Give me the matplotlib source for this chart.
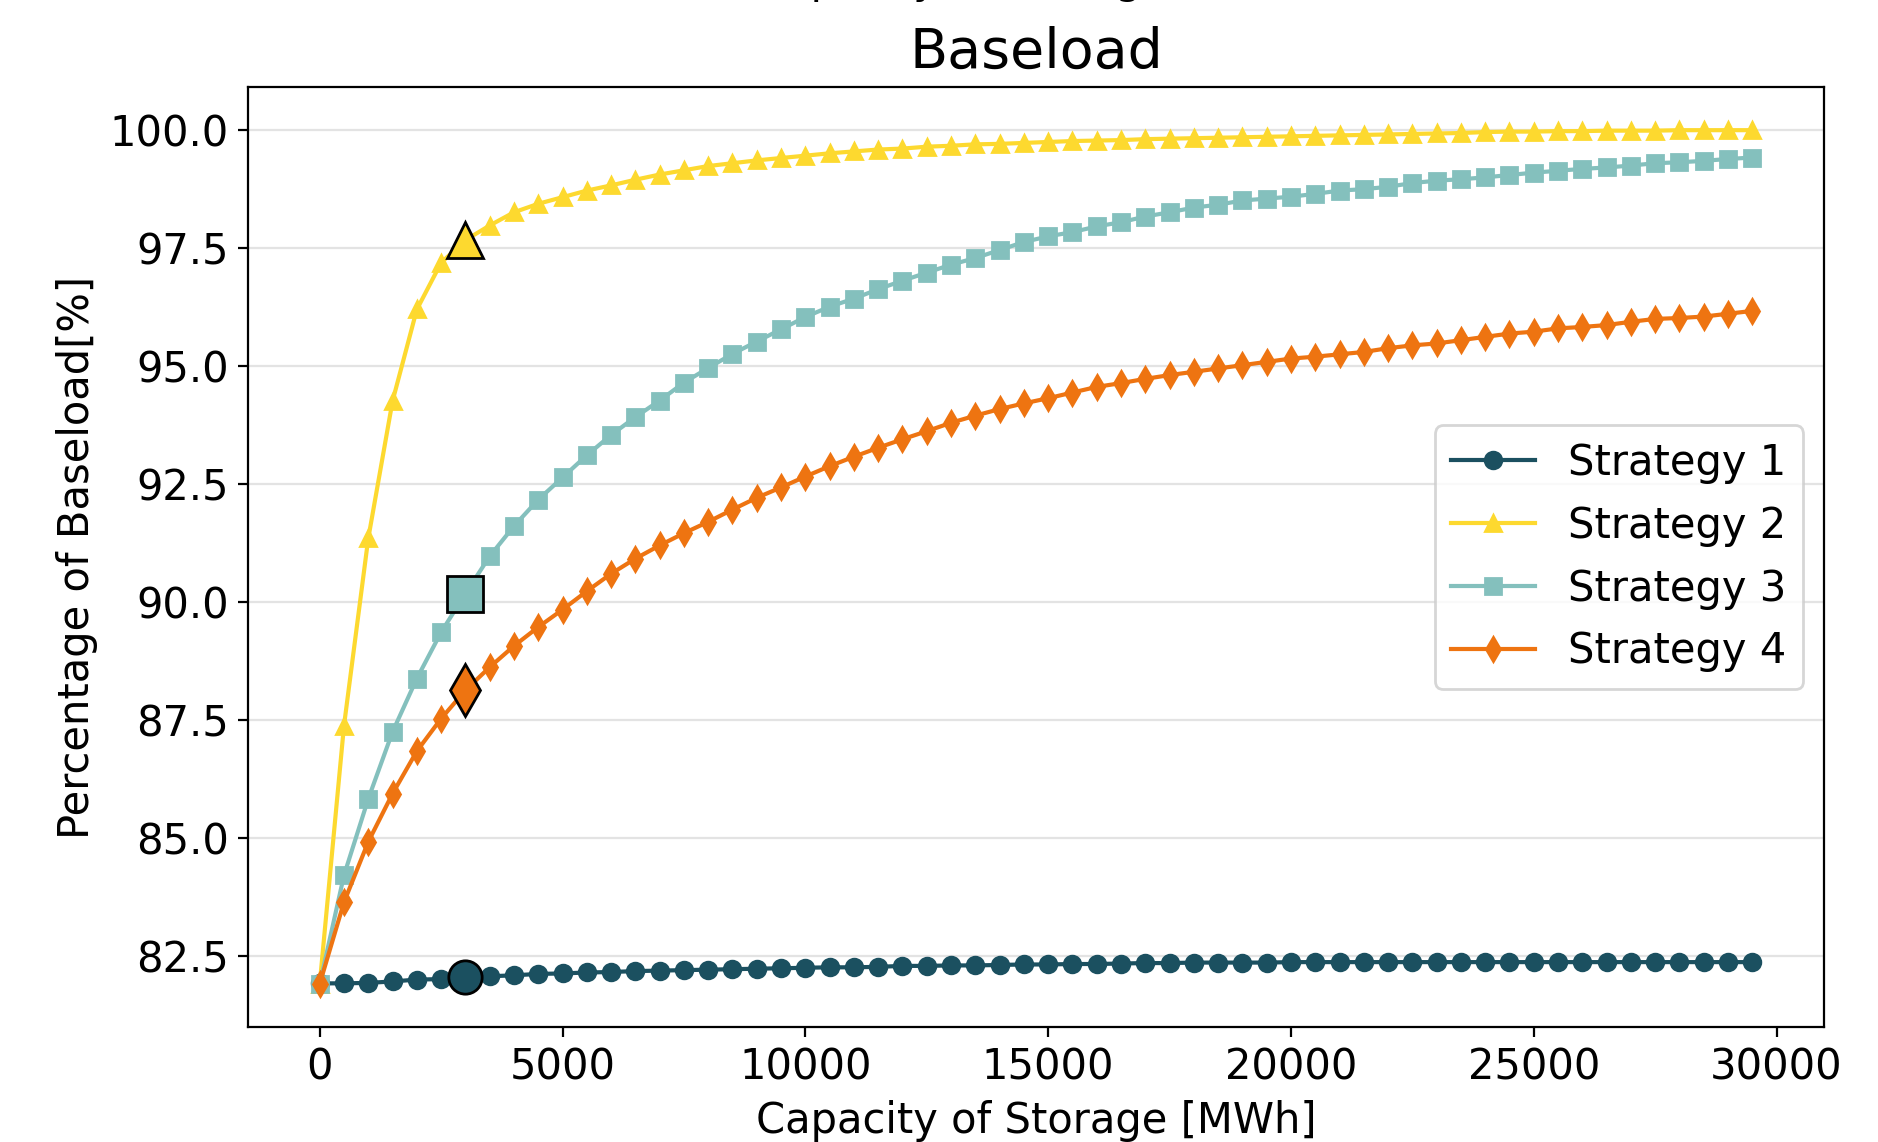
import numpy as np
import matplotlib
matplotlib.use("Agg")
import matplotlib.pyplot as plt

# storage capacity steps [MWh]
capacity = np.arange(0, 30000, 500)

strategy_1 = [81.92, 81.92, 81.93, 81.96, 82.00, 82.01, 82.05, 82.07, 82.09, 82.12,
              82.13, 82.15, 82.16, 82.18, 82.19, 82.20, 82.21, 82.22, 82.23, 82.24,
              82.25, 82.26, 82.26, 82.27, 82.29, 82.29, 82.30, 82.30, 82.31, 82.32,
              82.32, 82.33, 82.33, 82.34, 82.35, 82.35, 82.36, 82.36, 82.36, 82.36,
              82.37, 82.37, 82.37, 82.37, 82.37, 82.37, 82.37, 82.37, 82.37, 82.37,
              82.37, 82.37, 82.37, 82.37, 82.37, 82.37, 82.37, 82.37, 82.37, 82.37]
strategy_2 = [81.90, 87.38, 91.35, 94.26, 96.20, 97.19, 97.67, 97.98, 98.26, 98.44,
              98.58, 98.72, 98.83, 98.95, 99.06, 99.15, 99.24, 99.30, 99.36, 99.41,
              99.46, 99.51, 99.55, 99.59, 99.61, 99.65, 99.67, 99.70, 99.71, 99.73,
              99.75, 99.77, 99.78, 99.79, 99.81, 99.82, 99.83, 99.84, 99.85, 99.86,
              99.87, 99.88, 99.89, 99.90, 99.91, 99.92, 99.93, 99.94, 99.96, 99.97,
              99.97, 99.98, 99.98, 99.99, 99.99, 99.99, 100.0, 100.0, 100.0, 100.0]
strategy_3 = [81.90, 84.21, 85.83, 87.25, 88.38, 89.36, 90.18, 90.97, 91.61, 92.17,
              92.64, 93.11, 93.54, 93.92, 94.27, 94.65, 94.96, 95.26, 95.52, 95.78,
              96.04, 96.26, 96.43, 96.63, 96.81, 96.98, 97.15, 97.29, 97.46, 97.63,
              97.75, 97.84, 97.96, 98.05, 98.17, 98.26, 98.36, 98.42, 98.51, 98.55,
              98.59, 98.65, 98.72, 98.75, 98.80, 98.88, 98.93, 98.96, 99.00, 99.05,
              99.10, 99.14, 99.18, 99.21, 99.25, 99.30, 99.32, 99.35, 99.39, 99.42]
strategy_4 = [81.91, 83.64, 84.92, 85.94, 86.84, 87.53, 88.13, 88.62, 89.07, 89.47,
              89.84, 90.23, 90.60, 90.92, 91.20, 91.46, 91.70, 91.96, 92.21, 92.43,
              92.66, 92.88, 93.08, 93.27, 93.45, 93.62, 93.80, 93.95, 94.09, 94.21,
              94.32, 94.44, 94.56, 94.64, 94.73, 94.81, 94.88, 94.95, 95.02, 95.09,
              95.16, 95.20, 95.25, 95.30, 95.38, 95.44, 95.48, 95.55, 95.62, 95.69,
              95.73, 95.80, 95.83, 95.87, 95.94, 96.00, 96.02, 96.05, 96.11, 96.17]

labels = ["Strategy 1", "Strategy 2", "Strategy 3", "Strategy 4"]
colors = ["#1b5060", "#fdd92f", "#84c0bd", "#ee7411"]
markers = ["o", "^", "s", "d"]
big_sizes = [12, 13, 13, 13]
chosen = 3000   # highlighted capacity

fig = plt.figure(figsize=(9.39, 5.71), dpi=200)
ax = fig.add_axes([0.1321, 0.1007, 0.8391, 0.8227])

series = [strategy_1, strategy_2, strategy_3, strategy_4]
for ys, lab, c, m in zip(series, labels, colors, markers):
    ax.plot(capacity, ys, color=c, marker=m, markersize=6, linewidth=1.5, label=lab)
idx = list(capacity).index(chosen)
for ys, c, m, s in zip(series, colors, markers, big_sizes):
    ax.plot(capacity[idx], ys[idx], marker=m, markersize=s, color=c,
            markeredgecolor="black", markeredgewidth=1.0, linestyle="none", zorder=5)

ax.grid(axis="y", color="#e3e3e3", linewidth=0.8)
ax.set_axisbelow(True)
ax.tick_params(labelsize=15)
ax.set_xlabel("Capacity of Storage [MWh]", fontsize=15)
ax.set_ylabel("Percentage of Baseload[%]", fontsize=15)
ax.set_title("Baseload", fontsize=20, pad=7)
ax.legend(loc="center right", fontsize=15)

# label of the panel above, cut off by the crop (only descenders show)
fig.text(0.5517, 1 + 7 / 1142, "Capacity of Storage [MWh]", fontsize=15,
         ha="center", va="baseline")

fig.savefig("out.png", dpi=200)
